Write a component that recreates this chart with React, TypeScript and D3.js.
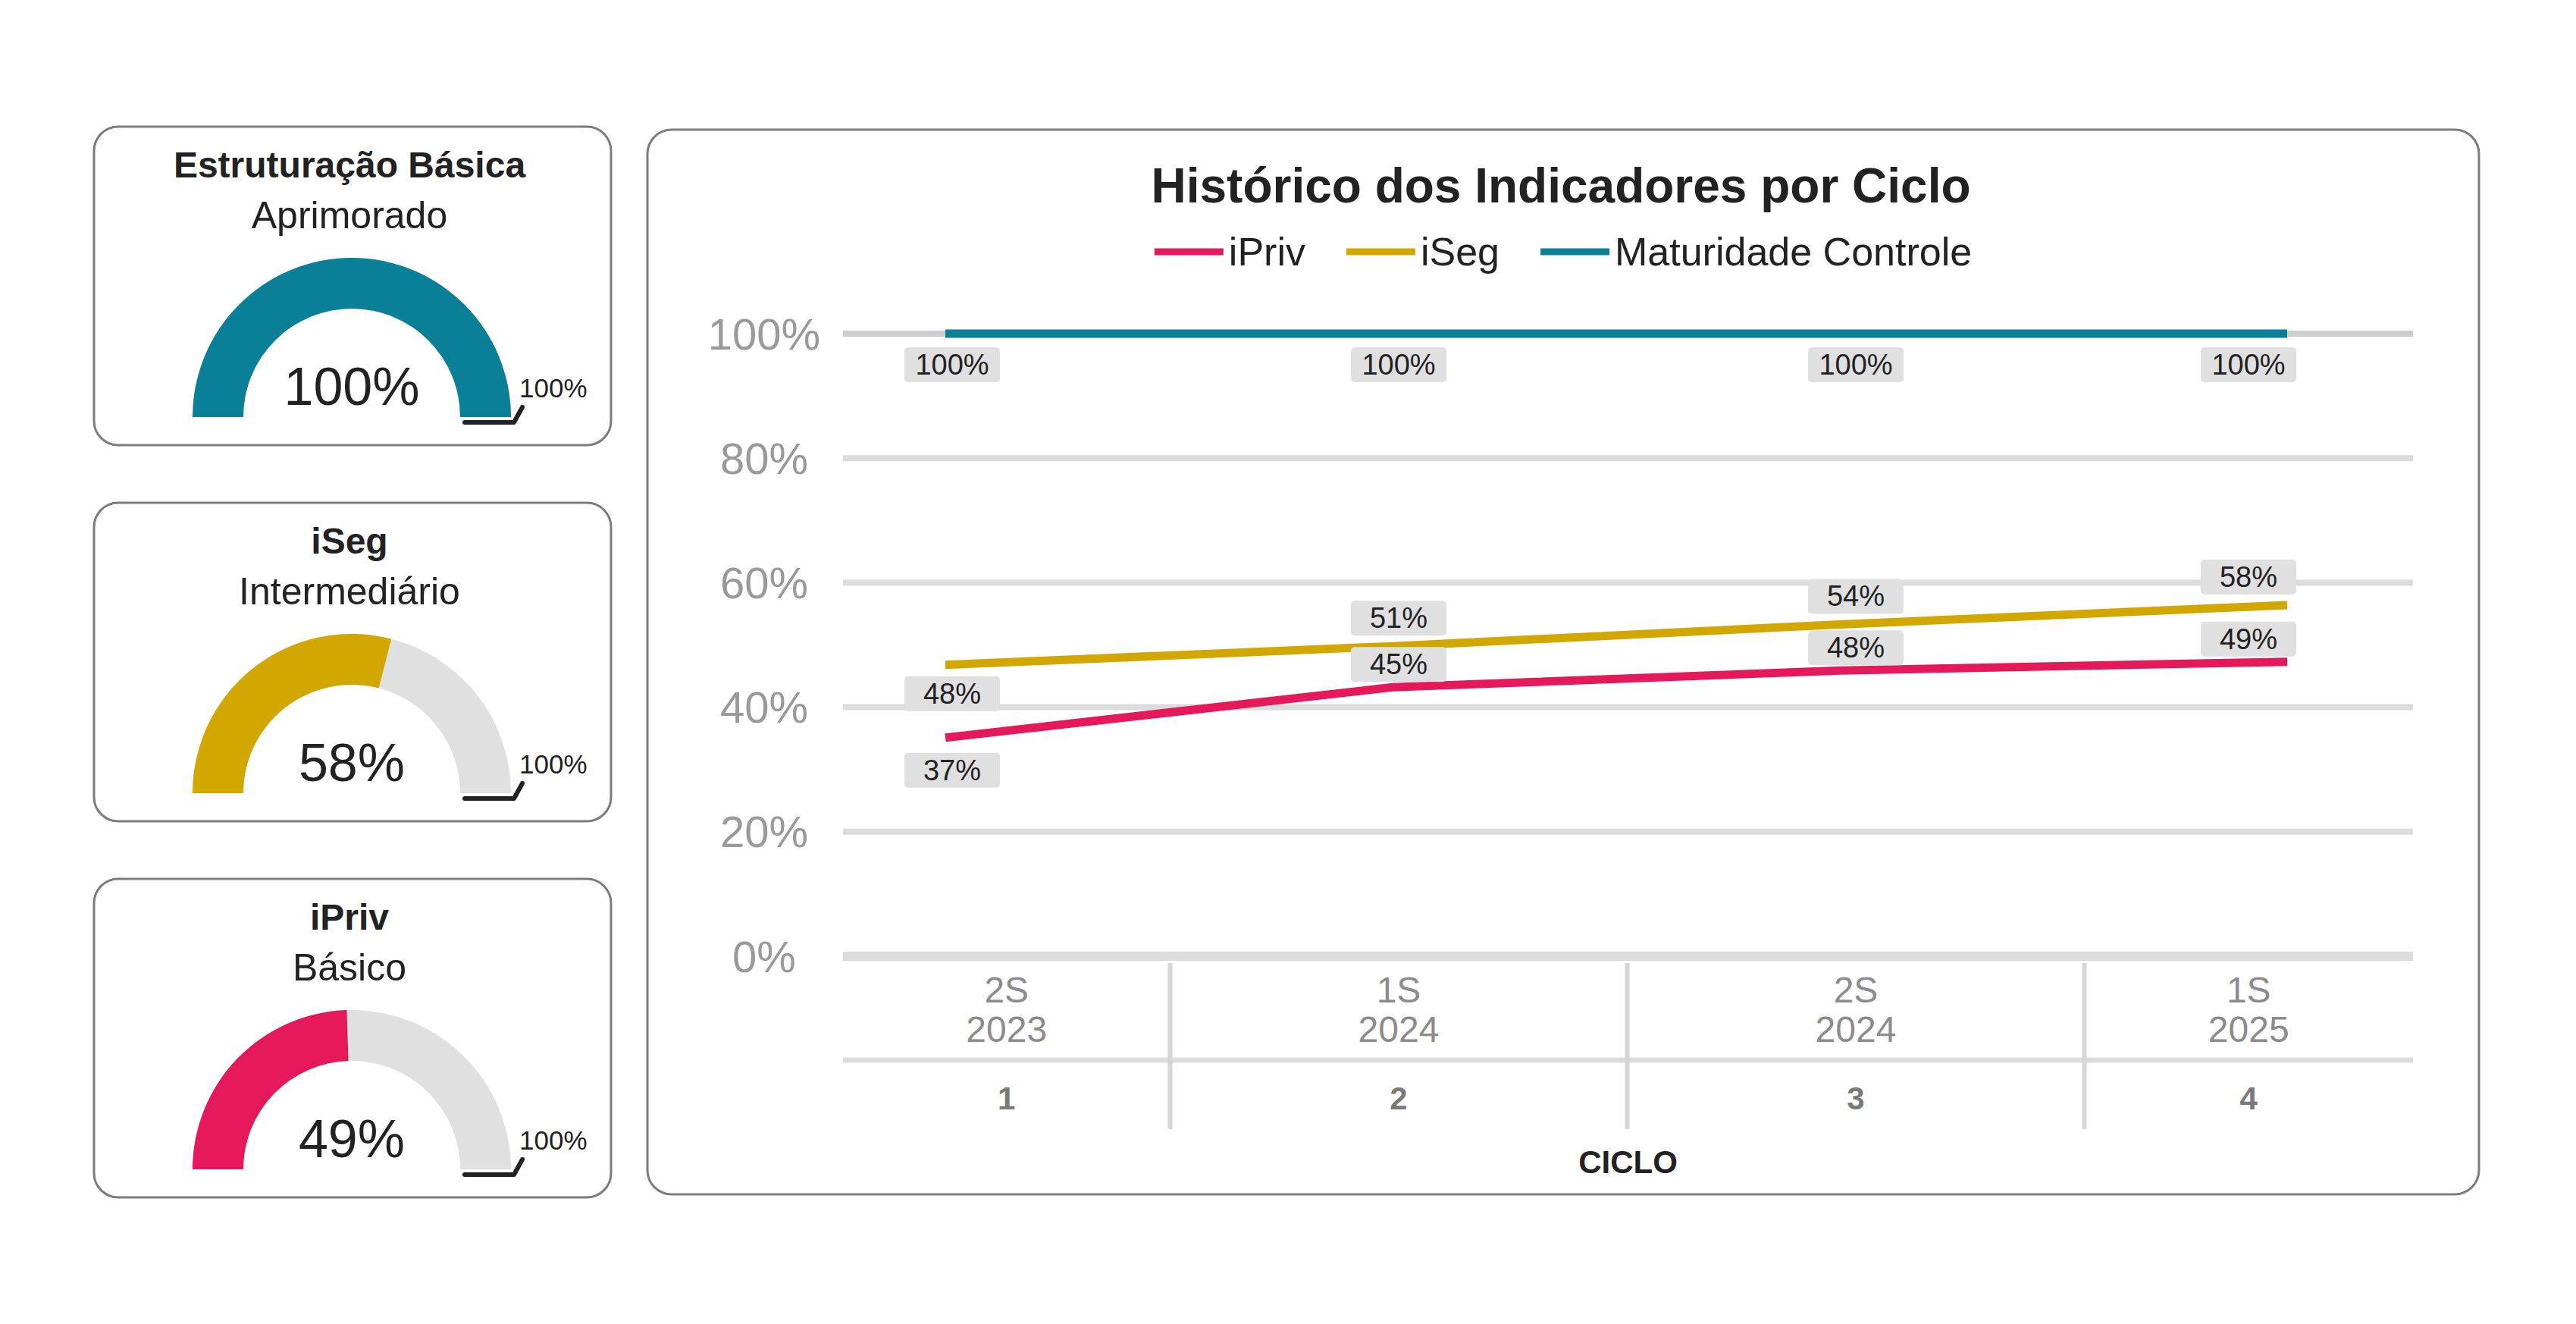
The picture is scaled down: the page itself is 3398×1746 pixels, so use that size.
import React from 'react';
import * as d3 from 'd3';

// ---------- data ----------
const cycles = ['1', '2', '3', '4'];
const semesters = ['2S', '1S', '2S', '1S'];
const years = ['2023', '2024', '2024', '2025'];

const iPrivValues = [35.1, 43.2, 45.9, 47.3];
const iSegValues = [46.8, 49.8, 53.3, 56.4];
const maturidadeValues = [100, 100, 100, 100];
// data labels as printed
const iPrivLabels = ['37%', '45%', '48%', '49%'];
const iSegLabels = ['48%', '51%', '54%', '58%'];
const maturidadeLabels = ['100%', '100%', '100%', '100%'];
const yTicks = [0, 20, 40, 60, 80, 100];

const seriesNames = ['iPriv', 'iSeg', 'Maturidade Controle'];

const gaugeTitles = ['Estruturação Básica', 'iSeg', 'iPriv'];
const gaugeLevels = ['Aprimorado', 'Intermediário', 'Básico'];
const gaugeValues = [100, 58, 49];
const gaugeMax = [100, 100, 100];

// ---------- styles ----------
const PINK = '#E5185A';
const GOLD = '#D2A800';
const TEAL = '#0A8098';
const TRACK = '#E0E0E0';
const FONT = '"Liberation Sans", Arial, Helvetica, sans-serif';

const measureCanvas = typeof document !== 'undefined' ? document.createElement('canvas') : null;
function textWidth(t: string, size: number, weight = 'normal') {
  if (!measureCanvas) return t.length * size * 0.55;
  const ctx = measureCanvas.getContext('2d')!;
  ctx.font = `${weight} ${size}px ${FONT}`;
  return ctx.measureText(t).width;
}

function Gauge({ top, title, level, value, max, color }: any) {
  const left = 124, right = 806, h = 420;
  const cx = 464;
  const base = top + 383;
  const R = 210, rIn = 143;
  const ang = d3.scaleLinear().domain([0, max]).range([-Math.PI / 2, Math.PI / 2]);
  const arc = d3.arc<any>().innerRadius(rIn).outerRadius(R);
  const bg = arc({ startAngle: -Math.PI / 2, endAngle: Math.PI / 2 }) as string;
  const fg = arc({ startAngle: -Math.PI / 2, endAngle: ang(value) }) as string;
  return (
    <g>
      <rect x={left} y={top} width={right - left} height={h} rx={32} ry={32}
        fill="#fff" stroke="#7d7d7d" strokeWidth={3} />
      <text x={cx - 3} y={top + 67} textAnchor="middle" fontSize={48} fontWeight="bold" fill="#222">{title}</text>
      <text x={cx - 3} y={top + 134} textAnchor="middle" fontSize={50} fill="#222">{level}</text>
      <g transform={`translate(${cx},${base})`}>
        <path d={bg} fill={TRACK} />
        <path d={fg} fill={color} />
      </g>
      <text x={cx} y={top + 367} textAnchor="middle" fontSize={70} fill="#222">{`${value}%`}</text>
      <path d={`M${cx + rIn + 6},${base + 7} H${cx + R + 4} L${cx + R + 15},${base - 13}`}
        fill="none" stroke="#222" strokeWidth={6} strokeLinecap="round" strokeLinejoin="round" />
      <text x={cx + R + 11} y={base - 26} fontSize={35} fill="#222">{`${max}%`}</text>
    </g>
  );
}

export default function App() {
  const W = 3398, H = 1746;
  // chart panel
  const pL = 854, pR = 3270, pT = 171, pB = 1575;
  const panelCx = (pL + pR) / 2;
  const plotL = 1112, plotR = 3183;

  const y = d3.scaleLinear().domain([0, 100]).range([1261, 440]);
  const xAxis = d3.scalePoint<string>().domain(cycles).range([1242, 3051]);
  const xLine = d3.scalePoint<string>().domain(cycles).range([1247, 3017]);
  const step = xAxis.step();

  const lineGen = d3.line<number>()
    .x((_, i) => xLine(cycles[i])!)
    .y((d) => y(d));

  const series = [
    { name: seriesNames[0], values: iPrivValues, labels: iPrivLabels, color: PINK,
      place: ['below', 'above', 'above', 'above'], above: -30, below: 43 },
    { name: seriesNames[1], values: iSegValues, labels: iSegLabels, color: GOLD,
      place: ['below', 'above', 'above', 'above'], above: -37, below: 38 },
    { name: seriesNames[2], values: maturidadeValues, labels: maturidadeLabels, color: TEAL,
      place: ['below', 'below', 'below', 'below'], above: -40, below: 41 },
  ];

  const labelMinX = 1256, labelMaxX = 2966;
  const labelW = 126, labelH = 46;

  // legend layout
  const legFont = 52, markW = 91, markGap = 7, itemGap = 54;
  const itemWidths = seriesNames.map((n) => markW + markGap + textWidth(n, legFont));
  const legTotal = d3.sum(itemWidths) + itemGap * (seriesNames.length - 1);
  let lx = panelCx - legTotal / 2;
  const legendItems = seriesNames.map((n, i) => {
    const it = { name: n, x: lx, color: series[i].color };
    lx += itemWidths[i] + itemGap;
    return it;
  });
  const legY = 332;

  const axisY = 1266;
  const rowDivY = 1398;
  const axisBottom = 1489;

  return (
    <svg width={W} height={H} style={{ position: 'absolute', left: 0, top: 0, background: '#fff' }}
      fontFamily={FONT}>
      <rect x={0} y={0} width={W} height={H} fill="#fff" />

      {/* gauges */}
      {gaugeTitles.map((t, i) => (
        <Gauge key={t} top={[167, 663, 1159][i]} title={t} level={gaugeLevels[i]}
          value={gaugeValues[i]} max={gaugeMax[i]} color={[TEAL, GOLD, PINK][i]} />
      ))}

      {/* chart panel */}
      <rect x={pL} y={pT} width={pR - pL} height={pB - pT} rx={32} ry={32}
        fill="#fff" stroke="#7d7d7d" strokeWidth={3} />
      <text x={panelCx - 3} y={267} textAnchor="middle" fontSize={64} fontWeight="bold" fill="#222">
        Histórico dos Indicadores por Ciclo
      </text>

      {/* legend */}
      {legendItems.map((it) => (
        <g key={it.name}>
          <line x1={it.x} x2={it.x + markW} y1={legY} y2={legY} stroke={it.color} strokeWidth={9} />
          <text x={it.x + markW + markGap} y={legY} dominantBaseline="central" fontSize={legFont} fill="#222">
            {it.name}
          </text>
        </g>
      ))}

      {/* gridlines & y ticks */}
      {yTicks.map((t) => (
        <g key={t}>
          <line x1={plotL} x2={plotR} y1={y(t)} y2={y(t)}
            stroke={t === 100 ? '#cdcdcd' : '#dcdcdc'} strokeWidth={t === 0 ? 12 : 8} />
          <text x={1008} y={y(t)} textAnchor="middle" dominantBaseline="central" fontSize={58} fill="#9a9a9a">
            {`${t}%`}
          </text>
        </g>
      ))}

      {/* x axis hierarchy */}
      <line x1={plotL} x2={plotR} y1={rowDivY} y2={rowDivY} stroke="#dcdcdc" strokeWidth={7} />
      {cycles.slice(0, -1).map((c) => (
        <line key={c} x1={xAxis(c)! + step / 2} x2={xAxis(c)! + step / 2} y1={axisY + 4} y2={axisBottom}
          stroke="#d6d6d6" strokeWidth={6} />
      ))}
      {cycles.map((c, i) => {
        const a = Math.max(plotL, xAxis(c)! - step / 2);
        const b = Math.min(plotR, xAxis(c)! + step / 2);
        const mx = (a + b) / 2;
        return (
          <g key={c}>
            <text x={mx} y={1305} textAnchor="middle" dominantBaseline="central" fontSize={48} fill="#8c8c8c">
              {semesters[i]}
            </text>
            <text x={mx} y={1357} textAnchor="middle" dominantBaseline="central" fontSize={48} fill="#8c8c8c">
              {years[i]}
            </text>
            <text x={mx} y={1448} textAnchor="middle" dominantBaseline="central" fontSize={42}
              fontWeight="bold" fill="#7a7a7a">
              {c}
            </text>
          </g>
        );
      })}
      <text x={(plotL + plotR) / 2} y={1532} textAnchor="middle" dominantBaseline="central"
        fontSize={42} fontWeight="bold" fill="#222">CICLO</text>

      {/* lines */}
      {series.map((s) => (
        <path key={s.name} d={lineGen(s.values) as string} fill="none" stroke={s.color}
          strokeWidth={11} strokeLinejoin="round" />
      ))}

      {/* data labels */}
      {series.map((s) =>
        s.values.map((v, i) => {
          const cx = Math.min(labelMaxX, Math.max(labelMinX, xAxis(cycles[i])!));
          const cy = y(v) + (s.place[i] === 'above' ? s.above : s.below);
          return (
            <g key={s.name + i}>
              <rect x={cx - labelW / 2} y={cy - labelH / 2} width={labelW} height={labelH} rx={5}
                fill="#e0e0e0" />
              <text x={cx} y={cy} textAnchor="middle" dominantBaseline="central" fontSize={38} fill="#222">
                {s.labels[i]}
              </text>
            </g>
          );
        })
      )}
    </svg>
  );
}
